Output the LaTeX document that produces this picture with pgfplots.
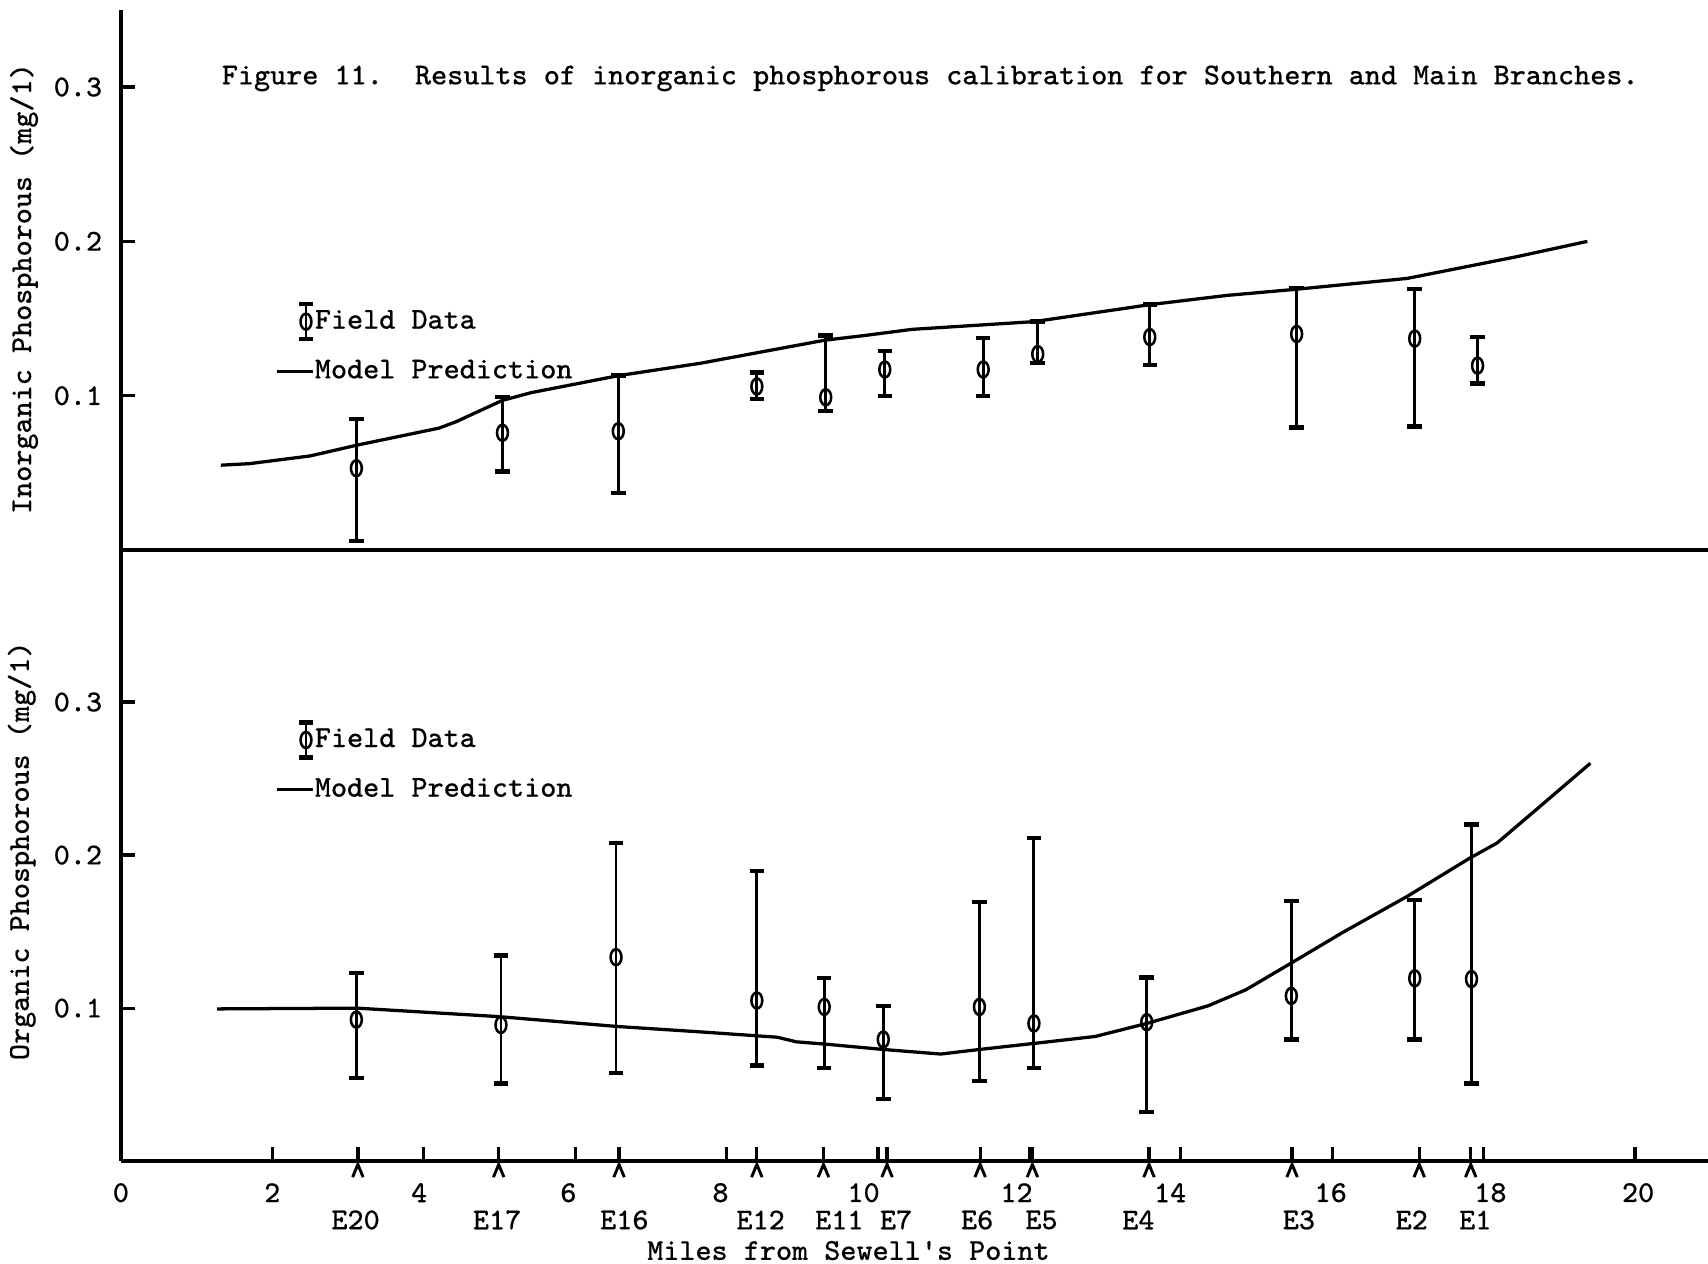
\documentclass[border=0pt]{standalone}
\usepackage{fontspec}
\setmonofont[FakeBold=0.5]{Latin Modern Mono}
\usepackage{pgfplots}
\pgfplotsset{compat=1.18}
\usepackage{pgfplotstable}
\newcommand\tw{\fontsize{8.35}{10}\selectfont\ttfamily\frenchspacing}

% top panel: inorganic phosphorous
\pgfplotstableread{
x y
1.32 0.055
1.70 0.056
2.50 0.061
3.12 0.068
4.20 0.079
4.42 0.083
5.04 0.097
5.42 0.102
6.57 0.113
7.65 0.121
9.30 0.136
9.82 0.139
10.45 0.143
12.06 0.148
13.59 0.159
14.61 0.165
15.53 0.169
16.99 0.176
18.43 0.190
19.37 0.200
}\inmodel
\pgfplotstableread{
x y ep em
3.11 0.053 0.032 0.047
5.04 0.076 0.023 0.025
6.57 0.077 0.036 0.040
8.40 0.106 0.009 0.008
9.31 0.099 0.040 0.009
10.09 0.117 0.012 0.017
11.39 0.117 0.0205 0.017
12.11 0.127 0.021 0.006
13.59 0.138 0.021 0.018
15.53 0.140 0.030 0.0605
17.09 0.137 0.032 0.057
17.92 0.1195 0.0185 0.0115
}\infield
% bottom panel: organic phosphorous
\pgfplotstableread{
x y
1.27 0.0995
3.12 0.100
4.98 0.0945
6.56 0.088
7.65 0.0845
8.67 0.081
8.92 0.078
9.30 0.0765
10.07 0.073
10.83 0.070
11.34 0.073
12.07 0.077
12.87 0.0815
13.55 0.090
14.36 0.1015
14.86 0.112
15.46 0.1295
16.14 0.1495
16.99 0.173
17.80 0.1975
18.18 0.208
18.69 0.2295
19.41 0.260
}\ormodel
\pgfplotstableread{
x y ep em
3.11 0.0925 0.0303 0.038
5.02 0.089 0.0455 0.0382
6.54 0.1333 0.0745 0.0758
8.40 0.105 0.0845 0.0425
9.29 0.1008 0.0187 0.040
10.07 0.0795 0.022 0.0387
11.34 0.1008 0.0687 0.0483
12.06 0.090 0.121 0.0292
13.55 0.0908 0.0292 0.0588
15.46 0.108 0.062 0.0285
17.09 0.1195 0.0513 0.040
17.84 0.119 0.101 0.0682
}\orfield
% sampling stations (miles from Sewell's Point)
\pgfplotstableread{
x y
3.13 0
4.99 0
6.58 0
8.40 0
9.28 0
10.12 0
11.35 0
12.04 0
13.58 0
15.47 0
17.15 0
17.83 0
}\stations

\pgfdeclareplotmark{caret}{%
  \pgfpathmoveto{\pgfqpoint{-1.45pt}{-4.4pt}}%
  \pgfpathlineto{\pgfqpoint{0pt}{-0.9pt}}%
  \pgfpathlineto{\pgfqpoint{1.45pt}{-4.4pt}}%
  \pgfusepathqstroke}

\newcommand\st[2]{\node[inner sep=0pt] at (axis cs:#1,-0.0384) {#2};}
\newcommand\num[2]{\node[inner sep=0pt] at (axis cs:#1,-0.0206) {#2};}

\pgfplotsset{
  fieldlegend/.style={legend image code/.code={
    \draw[line width=0.75pt] (8pt,-4.8pt) -- (8pt,4.8pt);
    \draw[line width=1.2pt] (6.2pt,-4.8pt) -- (9.8pt,-4.8pt) (6.2pt,4.8pt) -- (9.8pt,4.8pt);
    \draw[line width=0.7pt] (8pt,0pt) ellipse (1.5pt and 2.2pt);
    \path[draw=none] (0pt,0pt) rectangle (10.2pt,0pt);}},
  fieldstyle/.style={only marks, mark=o, black,
    mark options={xscale=0.75, yscale=1.1, line width=0.7pt},
    mark size=2pt,
    error bars/y dir=both, error bars/y explicit,
    error bars/error bar style={line width=0.8pt, black},
    error bars/error mark options={rotate=90, mark size=2pt, line width=1.2pt, black},
    fieldlegend,
  },
  modellegend/.style={legend image code/.code={
    \draw[line width=0.9pt] (0pt,0pt) -- (10pt,0pt);
    \path[draw=none] (10.2pt,0pt);}},
  every axis/.append style={
    axis lines=left,
    axis line style={-, line width=1.05pt},
    x=20.85pt, xmin=0, xmax=20.96, ymin=0,
    clip=false,
    tick align=inside, major tick length=3.8pt,
    tick style={line width=0.9pt, black},
    ytick={0.1,0.2,0.3}, yticklabels={0.1,0.2,0.3},
    yticklabel style={font=\tw, xshift=-2.2pt},
    legend cell align=left,
    legend style={draw=none, fill=none, font=\tw, inner sep=0pt,
      row sep=5.1pt, nodes={inner sep=0pt}},
  },
}

\begin{document}
\tw
\begin{tikzpicture}[font=\tw]
\useasboundingbox (-33.3pt,-28.2pt) rectangle (437.1pt,319.8pt);

\begin{axis}[at={(0pt,168.3pt)}, anchor=south west,
  y=425.1pt, ymax=0.35, xtick=\empty,
  legend style={at={(axis cs:2.03,0.1345)}, anchor=west}]
\addplot+[fieldstyle] table[x=x, y=y, y error plus=ep, y error minus=em] {\infield};
\addlegendentry{Field Data}
\addplot[line width=0.9pt, black, modellegend] table[x=x, y=y] {\inmodel};
\addlegendentry{Model Prediction}
\node[anchor=west, inner sep=0pt] at (axis cs:1.324,0.3056)
  {Figure 11.~~Results of inorganic phosphorous calibration for Southern and Main Branches.};
\node[rotate=90, inner sep=0pt] at (axis cs:-1.28,0.1694) {Inorganic Phosphorous (mg/1)};
\end{axis}

\begin{axis}[at={(0pt,0pt)}, anchor=south west,
  y=421.5pt, ymax=0.4,
  xtick={2,4,...,20}, xticklabels={},
  extra x ticks={3.13,4.99,6.58,8.40,9.28,10.12,11.35,12.04,13.58,15.47,17.15,17.83},
  extra x tick labels={},
  legend style={at={(axis cs:2.03,0.2616)}, anchor=west}]
\addplot+[fieldstyle] table[x=x, y=y, y error plus=ep, y error minus=em] {\orfield};
\addlegendentry{Field Data}
\addplot[line width=0.9pt, black, modellegend] table[x=x, y=y] {\ormodel};
\addlegendentry{Model Prediction}
\addplot[only marks, mark=caret, black, mark options={line width=0.8pt, line join=miter}, forget plot]
  table[x=x, y=y] {\stations};
\node[rotate=90, inner sep=0pt] at (axis cs:-1.31,0.2028) {Organic Phosphorous (mg/1)};
\num{0}{0}\num{2.0}{2}\num{3.94}{4}\num{5.91}{6}\num{7.92}{8}\num{9.81}{10}
\num{11.83}{12}\num{13.86}{14}\num{15.98}{16}\num{18.09}{18}\num{20.04}{20}
\st{3.10}{E20}\st{4.97}{E17}\st{6.65}{E16}\st{8.45}{E12}
\st{9.49}{E11}\st{10.24}{E7}\st{11.31}{E6}\st{12.16}{E5}
\st{13.44}{E4}\st{15.56}{E3}\st{17.05}{E2}\st{17.89}{E1}
\node[inner sep=0pt] at (axis cs:9.61,-0.0584) {Miles from Sewell\textquotesingle s Point};
\end{axis}
\end{tikzpicture}
\end{document}
